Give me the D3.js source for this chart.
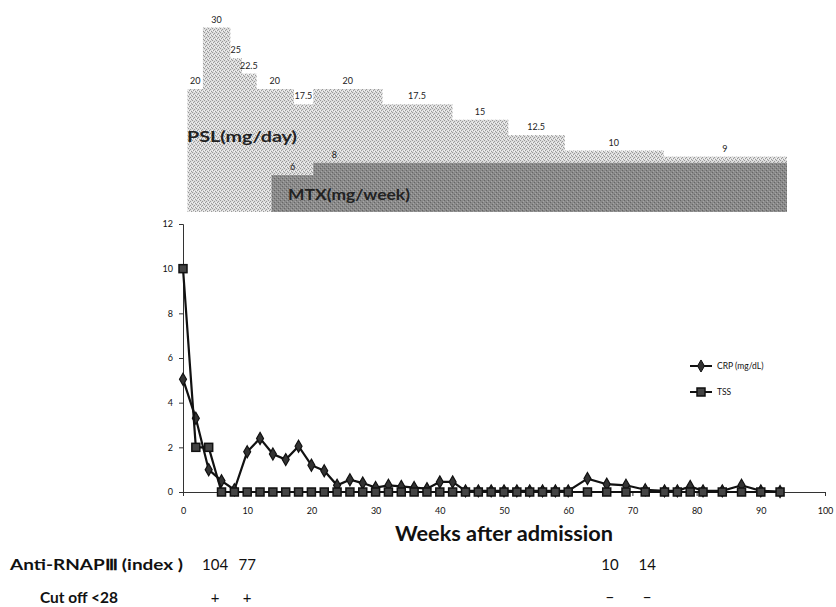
<!DOCTYPE html>
<html>
<head>
<meta charset="utf-8">
<script src="https://cdn.jsdelivr.net/npm/d3@7"></script>
<style>
  body { margin: 0; background: #fff; }
  svg { display: block; font-family: Lato, "Open Sans", sans-serif; }
</style>
</head>
<body>
<svg width="836" height="607"></svg>
<script>
// CRP (mg/dL) by week
const crpWeeks = [0, 2, 4, 6, 8, 10, 12, 14, 16, 18, 20, 22, 24, 26, 28, 30, 32, 34, 36, 38, 40, 42,
  44, 46, 48, 50, 52, 54, 56, 58, 60, 63, 66, 69, 72, 75, 77, 79, 81, 84, 87, 90, 93];
const crpValues = [5.05, 3.3, 1.0, 0.5, 0.1, 1.8, 2.4, 1.7, 1.45, 2.05, 1.2, 0.95, 0.3, 0.55, 0.4, 0.2, 0.3, 0.25, 0.2, 0.15, 0.45, 0.45,
  0.05, 0.05, 0.05, 0.05, 0.05, 0.05, 0.05, 0.05, 0.05, 0.6, 0.35, 0.3, 0.1, 0.05, 0.05, 0.25, 0.05, 0.05, 0.3, 0.05, 0.02];

// TSS by week
const tssWeeks = [0, 2, 4, 6, 8, 10, 12, 14, 16, 18, 20, 22, 24, 26, 28, 30, 32, 34, 36, 38, 40, 42,
  44, 46, 48, 50, 52, 54, 56, 58, 60, 63, 66, 69, 72, 75, 77, 79, 81, 84, 87, 90, 93];
const tssValues = [10, 2, 2, 0, 0, 0, 0, 0, 0, 0, 0, 0, 0, 0, 0, 0, 0, 0, 0, 0, 0, 0,
  0, 0, 0, 0, 0, 0, 0, 0, 0, 0, 0, 0, 0, 0, 0, 0, 0, 0, 0, 0, 0];

// PSL (mg/day) steps
const pslStart = [0.7, 3.1, 7.3, 9.1, 11.4, 17.2, 20.3, 31.0, 41.9, 50.6, 59.4, 74.8];
const pslEnd   = [3.1, 7.3, 9.1, 11.4, 17.2, 20.3, 31.0, 41.9, 50.6, 59.4, 74.8, 94.0];
const pslDose  = [20, 30, 25, 22.5, 20, 17.5, 20, 17.5, 15, 12.5, 10, 9];

// MTX (mg/week) steps
const mtxStart = [13.8, 20.3];
const mtxEnd   = [20.3, 94.0];
const mtxDose  = [6, 8];

// Anti-RNAP III table
const antiWeeks  = [5, 10, 66.5, 72.3];
const antiValues = ["104", "77", "10", "14"];
const cutoffSign = ["+", "+", "\u2212", "\u2212"];

const xTicks = [0, 10, 20, 30, 40, 50, 60, 70, 80, 90, 100];
const yTicks = [0, 2, 4, 6, 8, 10, 12];

const svg = d3.select("svg");

const x = d3.scaleLinear().domain([0, 100]).range([183, 825]);
const y = d3.scaleLinear().domain([0, 12]).range([492, 224]);
const doseY = d3.scaleLinear().domain([0, 30]).range([212, 27.5]);

// fill textures
const defs = svg.append("defs");
const psl = defs.append("pattern").attr("id", "pslFill")
  .attr("patternUnits", "userSpaceOnUse").attr("width", 4).attr("height", 4);
psl.append("rect").attr("width", 4).attr("height", 4).attr("fill", "#dcdcdc");
[[0, 0], [2, 1], [1, 2], [3, 3]].forEach(function (p) {
  psl.append("rect").attr("x", p[0]).attr("y", p[1]).attr("width", 1).attr("height", 1).attr("fill", "#999");
});
[[2, 3], [0, 2]].forEach(function (p) {
  psl.append("rect").attr("x", p[0]).attr("y", p[1]).attr("width", 1).attr("height", 1).attr("fill", "#f4f4f4");
});
const mtx = defs.append("pattern").attr("id", "mtxFill")
  .attr("patternUnits", "userSpaceOnUse").attr("width", 4).attr("height", 4);
mtx.append("rect").attr("width", 4).attr("height", 4).attr("fill", "#8a8a8a");
[[0, 0], [2, 2]].forEach(function (p) {
  mtx.append("rect").attr("x", p[0]).attr("y", p[1]).attr("width", 1).attr("height", 1).attr("fill", "#666");
});
[[1, 3], [3, 1]].forEach(function (p) {
  mtx.append("rect").attr("x", p[0]).attr("y", p[1]).attr("width", 1).attr("height", 1).attr("fill", "#a6a6a6");
});

// ---- top: drug doses ----
const pslData = pslDose.map(function (d, i) { return { start: pslStart[i], end: pslEnd[i], dose: d }; });
const mtxData = mtxDose.map(function (d, i) { return { start: mtxStart[i], end: mtxEnd[i], dose: d }; });

const doseG = svg.append("g").attr("class", "doses");

doseG.selectAll("rect.psl")
  .data(pslData)
  .enter()
  .append("rect")
  .attr("class", "psl")
  .attr("x", function (d) { return x(d.start); })
  .attr("y", function (d) { return doseY(d.dose); })
  .attr("width", function (d) { return x(d.end) - x(d.start) + 0.5; })
  .attr("height", function (d) { return doseY(0) - doseY(d.dose); })
  .attr("fill", "url(#pslFill)");

doseG.selectAll("text.psl")
  .data(pslData)
  .enter()
  .append("text")
  .attr("class", "psl")
  .attr("x", function (d) { return (x(d.start) + x(d.end)) / 2; })
  .attr("y", function (d) { return doseY(d.dose) - 5; })
  .attr("text-anchor", "middle")
  .attr("font-size", 9)
  .attr("fill", "#222")
  .text(function (d) { return d.dose; });

doseG.selectAll("rect.mtx")
  .data(mtxData)
  .enter()
  .append("rect")
  .attr("class", "mtx")
  .attr("x", function (d) { return x(d.start); })
  .attr("y", function (d) { return doseY(d.dose); })
  .attr("width", function (d) { return x(d.end) - x(d.start) + 0.5; })
  .attr("height", function (d) { return doseY(0) - doseY(d.dose); })
  .attr("fill", "url(#mtxFill)");

doseG.selectAll("text.mtx")
  .data(mtxData)
  .enter()
  .append("text")
  .attr("class", "mtx")
  .attr("x", function (d) { return x(d.start) + 21; })
  .attr("y", function (d) { return doseY(d.dose) - 5; })
  .attr("text-anchor", "middle")
  .attr("font-size", 9)
  .attr("fill", "#222")
  .text(function (d) { return d.dose; });

doseG.append("text")
  .attr("x", 187).attr("y", 142)
  .attr("font-size", 16).attr("font-weight", "bold").attr("fill", "#222")
  .attr("textLength", 110).attr("lengthAdjust", "spacingAndGlyphs")
  .text("PSL(mg/day)");

doseG.append("text")
  .attr("x", 288).attr("y", 200)
  .attr("font-size", 16).attr("font-weight", "bold").attr("fill", "#222")
  .attr("textLength", 122).attr("lengthAdjust", "spacingAndGlyphs")
  .text("MTX(mg/week)");

// ---- main chart ----
const yAxis = svg.append("g")
  .attr("transform", "translate(" + x(0) + ",0)")
  .call(d3.axisLeft(y).tickValues(yTicks).tickSize(4).tickPadding(6));
const xAxis = svg.append("g")
  .attr("transform", "translate(0," + y(0) + ")")
  .call(d3.axisBottom(x).tickValues(xTicks).tickSize(4).tickPadding(12));

[yAxis, xAxis].forEach(function (a) {
  a.select(".domain").attr("stroke", "#333").attr("stroke-width", 1);
  a.selectAll(".tick line").attr("stroke", "#333");
  a.selectAll(".tick text").attr("font-family", "Lato, sans-serif").attr("font-size", 9).attr("fill", "#111");
});

const line = d3.line()
  .x(function (d) { return x(d.w); })
  .y(function (d) { return y(d.v); });

const crpData = crpWeeks.map(function (w, i) { return { w: w, v: crpValues[i] }; });
const tssData = tssWeeks.map(function (w, i) { return { w: w, v: tssValues[i] }; });

const diamond = d3.symbol().type(d3.symbolDiamond).size(42);

svg.append("path")
  .datum(crpData)
  .attr("fill", "none")
  .attr("stroke", "#111")
  .attr("stroke-width", 2.2)
  .attr("d", line);

svg.append("g")
  .selectAll("path")
  .data(crpData)
  .enter()
  .append("path")
  .attr("transform", function (d) { return "translate(" + x(d.w) + "," + y(d.v) + ")"; })
  .attr("d", diamond)
  .attr("fill", "#333")
  .attr("stroke", "#111")
  .attr("stroke-width", 1.2);

svg.append("path")
  .datum(tssData)
  .attr("fill", "none")
  .attr("stroke", "#111")
  .attr("stroke-width", 2.2)
  .attr("d", line);

svg.append("g")
  .selectAll("rect")
  .data(tssData)
  .enter()
  .append("rect")
  .attr("x", function (d) { return x(d.w) - 4; })
  .attr("y", function (d) { return y(d.v) - 4; })
  .attr("width", 8)
  .attr("height", 8)
  .attr("fill", "#444")
  .attr("stroke", "#111")
  .attr("stroke-width", 1.5);

// legend
const legend = svg.append("g").attr("transform", "translate(690,366)");
legend.append("line").attr("x1", 0).attr("x2", 22).attr("y1", 0).attr("y2", 0)
  .attr("stroke", "#111").attr("stroke-width", 2);
legend.append("path").attr("transform", "translate(11,0)").attr("d", diamond).attr("fill", "#333").attr("stroke", "#111");
legend.append("text").attr("x", 27).attr("y", 3).attr("font-size", 8.5).attr("fill", "#111").text("CRP (mg/dL)");
legend.append("line").attr("x1", 0).attr("x2", 22).attr("y1", 26).attr("y2", 26)
  .attr("stroke", "#111").attr("stroke-width", 2);
legend.append("rect").attr("x", 7).attr("y", 22).attr("width", 8).attr("height", 8)
  .attr("fill", "#444").attr("stroke", "#111").attr("stroke-width", 1.5);
legend.append("text").attr("x", 27).attr("y", 29).attr("font-size", 8.5).attr("fill", "#111").text("TSS");

// axis title
svg.append("text")
  .attr("x", 504).attr("y", 541)
  .attr("text-anchor", "middle")
  .attr("font-size", 20).attr("font-weight", "bold").attr("fill", "#111")
  .attr("textLength", 218).attr("lengthAdjust", "spacingAndGlyphs")
  .text("Weeks after admission");

// table below
svg.append("text")
  .attr("x", 10).attr("y", 570)
  .attr("font-size", 15).attr("font-weight", "bold").attr("fill", "#111")
  .attr("textLength", 173).attr("lengthAdjust", "spacingAndGlyphs")
  .text("Anti-RNAP\u2162 (index )");
svg.append("text")
  .attr("x", 40).attr("y", 603)
  .attr("font-size", 15).attr("font-weight", "bold").attr("fill", "#111")
  .attr("textLength", 78).attr("lengthAdjust", "spacingAndGlyphs")
  .text("Cut off  <28");

svg.append("g")
  .selectAll("text")
  .data(antiValues)
  .enter()
  .append("text")
  .attr("x", function (d, i) { return x(antiWeeks[i]); })
  .attr("y", 570)
  .attr("text-anchor", "middle")
  .attr("font-size", 15).attr("fill", "#111")
  .text(function (d) { return d; });

svg.append("g")
  .selectAll("text")
  .data(cutoffSign)
  .enter()
  .append("text")
  .attr("x", function (d, i) { return x(antiWeeks[i]); })
  .attr("y", 603)
  .attr("text-anchor", "middle")
  .attr("font-size", 15).attr("fill", "#111")
  .text(function (d) { return d; });
</script>
</body>
</html>
